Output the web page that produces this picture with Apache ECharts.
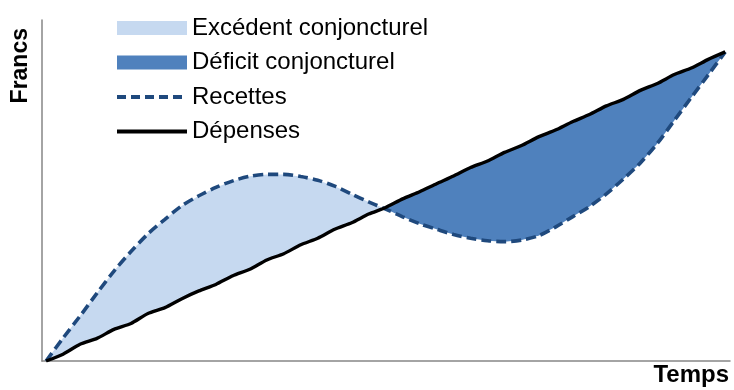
<!DOCTYPE html>
<html><head><meta charset="utf-8">
<script src="https://cdn.jsdelivr.net/npm/echarts@6/dist/echarts.min.js"></script>
<style>html,body{margin:0;padding:0;background:#fff}#c{width:734px;height:390px}</style>
</head><body><div id="c"></div>
<script>
var temps = [0,2.5,5,7.5,10,12.5,15,17.5,20,22.5,25,27.5,30,32.5,35,37.5,40,42.5,45,47.5,50,52.5,55,57.5,60,62.5,65,67.5,70,72.5,75,77.5,80,82.5,85,87.5,90,92.5,95,97.5,100];
var recettes = [0,7.4,14.5,21.9,29.0,35.3,41.0,45.7,50.1,53.3,56.0,58.1,59.6,60.2,60.2,59.5,58.3,56.4,53.8,51.3,49.0,46.5,44.3,42.5,40.8,39.6,38.8,38.5,39.0,40.4,43.2,46.5,49.8,53.9,58.7,63.9,70.2,77.6,85.0,92.3,99.7];
var depenses = [0,2.2,5.4,7.3,10.2,12.1,15.3,17.2,20.1,22.6,24.7,27.5,29.6,32.6,34.6,37.5,39.6,42.5,44.6,47.4,49.5,52.3,54.6,57.2,59.7,62.4,64.5,67.3,69.5,72.3,74.5,77.2,79.5,82.3,84.4,87.3,89.5,92.4,94.5,97.3,99.7];
var names = ['Excédent conjoncturel','Déficit conjoncturel','Recettes','Dépenses'];
var axisNames = ['Francs','Temps'];

var FONT = '"Liberation Sans", Arial, sans-serif';
var BLUE_DARK = '#1f497d';

// Build runs of the band where (recettes - depenses) * sign >= 0
function bandRuns(sign) {
  var runs = [], top = [], bot = [];
  function flush() { if (top.length > 1) runs.push(top.concat(bot.slice().reverse())); top = []; bot = []; }
  for (var i = 0; i < temps.length; i++) {
    var g = (recettes[i] - depenses[i]) * sign;
    if (i > 0) {
      var gp = (recettes[i-1] - depenses[i-1]) * sign;
      if ((gp >= 0) !== (g >= 0)) {
        var f = gp / (gp - g);
        var tc = temps[i-1] + f * (temps[i] - temps[i-1]);
        var yc = recettes[i-1] + f * (recettes[i] - recettes[i-1]);
        top.push([tc, yc]); bot.push([tc, yc]);
        if (gp >= 0) flush();
      }
    }
    if (g >= 0) { top.push([temps[i], recettes[i]]); bot.push([temps[i], depenses[i]]); }
  }
  flush();
  return runs;
}

function bandRenderer(sign, color) {
  var runs = bandRuns(sign);
  return function (params, api) {
    if (params.dataIndex !== 0) return null;
    return {
      type: 'group',
      children: runs.map(function (run) {
        return {
          type: 'polygon',
          shape: { points: run.map(function (p) { return api.coord(p); }) },
          style: { fill: color }
        };
      })
    };
  };
}

var chart = echarts.init(document.getElementById('c'), null, {renderer: 'canvas'});
chart.setOption({
  animation: false,
  grid: { left: 42, right: 4, top: 20, bottom: 29, containLabel: false, outerBoundsMode: 'none' },
  xAxis: { type: 'value', min: -0.6, max: 100.7,
    axisLine: { onZero: false, lineStyle: { color: '#868686', width: 1.5 } },
    axisTick: { show: false }, axisLabel: { show: false }, splitLine: { show: false } },
  yAxis: { type: 'value', min: 0, max: 110,
    axisLine: { show: true, onZero: false, lineStyle: { color: '#868686', width: 1.5 } },
    axisTick: { show: false }, axisLabel: { show: false }, splitLine: { show: false } },
  legend: {
    orient: 'vertical', left: 115, top: 16, padding: 0, itemWidth: 70, itemHeight: 14, itemGap: 10.5,
    textStyle: { fontFamily: FONT, fontSize: 24, color: '#000', lineHeight: 20 },
    data: [
      { name: names[0], icon: 'rect' },
      { name: names[1], icon: 'rect' },
      { name: names[2], itemStyle: { opacity: 0 }, lineStyle: { width: 4, type: [9, 5] } },
      { name: names[3], itemStyle: { opacity: 0 }, lineStyle: { width: 4 } }
    ],
    selectedMode: false
  },
  graphic: [
    { type: 'text', left: 9, top: 28, rotation: Math.PI/2, origin: [0,0],
      style: { text: axisNames[0], font: 'bold 23px ' + FONT, fill: '#000' } },
    { type: 'text', right: 5, bottom: 3,
      style: { text: axisNames[1], font: 'bold 24px ' + FONT, fill: '#000' } }
  ],
  series: [
    { name: names[0], type: 'custom', z: 1, data: [[temps[0], recettes[0]]], itemStyle: { color: '#c6d9f0' },
      renderItem: bandRenderer(1, '#c6d9f0') },
    { name: names[1], type: 'custom', z: 1, data: [[temps[0], recettes[0]]], itemStyle: { color: '#4f81bd' },
      renderItem: bandRenderer(-1, '#4f81bd') },
    { name: names[2], type: 'line', z: 3, symbol: 'none', smooth: 0.3,
      data: temps.map(function (t, k) { return [t, recettes[k]]; }),
      itemStyle: { color: BLUE_DARK },
      lineStyle: { color: BLUE_DARK, width: 3.6, type: [10, 5] } },
    { name: names[3], type: 'line', z: 4, symbol: 'none', smooth: 0.2,
      data: temps.map(function (t, k) { return [t, depenses[k]]; }),
      itemStyle: { color: '#000' },
      lineStyle: { color: '#000', width: 3.4 } }
  ]
});
</script></body></html>
